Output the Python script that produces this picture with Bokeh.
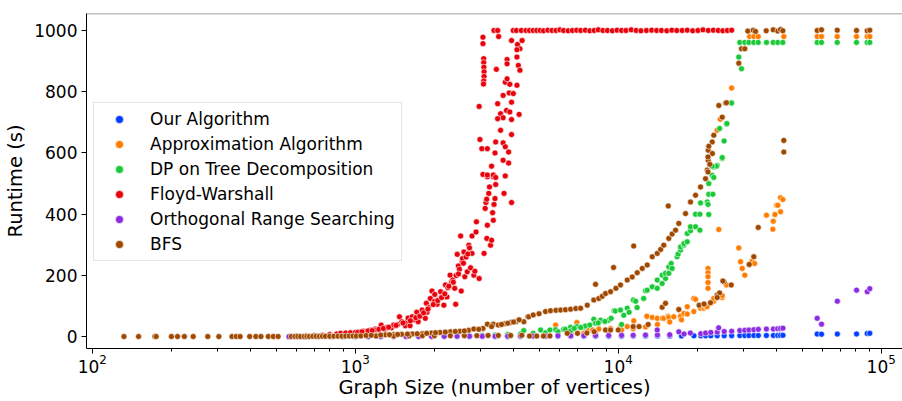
from bokeh.plotting import figure
from bokeh.models import Legend, LegendItem, FixedTicker, Range1d, Span
from bokeh.embed import file_html
from bokeh.resources import INLINE

# ---------------- data (graph size, runtime in seconds) ----------------
series_names = ["Our Algorithm", "Approximation Algorithm", "DP on Tree Decomposition",
                "Floyd-Warshall", "Orthogonal Range Searching", "BFS"]
series_colors = ["#023eff", "#ff7c00", "#1ac938", "#e8000b", "#8b2be2", "#9f4800"]

our_size = [560, 640, 720, 810, 900, 1000, 1120, 1250, 1400, 1560,
            1740, 1950, 2180, 2440, 2720, 3040, 3400, 3800, 4250, 4750,
            5300, 5900, 6600, 7400, 8200, 9200, 10300, 11400, 12700, 14100,
            15700, 17400, 19400, 20600, 21500, 22500, 23800, 25300, 27000, 29000,
            30300, 31400, 32800, 34100, 36600, 38900, 40400, 41400, 42300, 57100,
            59300, 68100, 80600, 88500, 90500]
our_time = [0.1, 0.1, 0.1, 0.2, 0.2, 0.2, 0.3, 0.3, 0.3, 0.4,
            0.4, 0.5, 0.5, 0.6, 0.7, 0.7, 0.8, 0.9, 1.0, 1.1,
            1.2, 1.3, 1.4, 1.5, 1.6, 1.8, 1.9, 2.0, 2.2, 2.4,
            2.5, 2.7, 2.9, 3.0, 3.1, 3.2, 3.3, 3.4, 3.5, 3.6,
            3.7, 3.8, 3.9, 4.0, 4.1, 4.2, 4.3, 4.4, 4.5, 8.5,
            8.2, 8.6, 9.0, 10.5, 11.0]

apx_size = [560, 640, 720, 810, 900, 1000, 1120, 1250, 1400, 1560,
            1740, 1950, 2180, 2440, 2720, 3040, 3400, 3800, 4250, 4750,
            5300, 5780, 5900, 6600, 6960, 7400, 7625, 8000, 8200, 8440,
            9200, 9350, 10200, 10300, 10820, 11400, 11460, 12700, 12890, 12850,
            13470, 14070, 14100, 14690, 14900, 15470, 15570, 15700, 16270, 17000,
            17260, 17400, 17780, 18300, 18300, 19380, 19380, 19680, 20440, 20560,
            21170, 21480, 21780, 21950, 21950, 21950, 21950, 21950, 22440, 22770,
            23090, 23090, 23780, 24130, 23780, 24440, 24860, 24860, 25800, 26990,
            28740, 29190, 29620, 30300, 31390, 32300, 32780, 33000, 36630, 38730,
            38860, 39440, 40000, 40440, 41410, 41410, 42260, 31580, 32780, 34070,
            42630, 57110, 59300, 68050, 80550, 88470, 90500]
apx_time = [0.3, 0.3, 0.4, 0.5, 0.6, 0.7, 0.8, 0.9, 1.0, 1.2,
            1.4, 1.6, 1.9, 2.2, 2.5, 2.9, 3.3, 3.8, 4.4, 5,
            6, 38, 7, 9, 46, 11, 22, 22, 14, 25,
            18, 27, 31, 22, 33, 26, 52, 32, 65, 67,
            63, 60, 40, 60, 60, 67, 63, 48, 65, 89,
            67, 55, 76, 98, 74, 82, 125, 122, 103, 93,
            93, 98, 98, 223, 209, 196, 177, 158, 111, 114,
            116, 125, 128, 350, 674, 710, 128, 134, 169, 812,
            290, 245, 223, 201, 236, 247, 261, 239, 397, 351,
            377, 399, 429, 429, 408, 454, 448, 980, 980, 980,
            980, 980, 980, 980, 980, 980, 980]

dp_size = [560, 640, 720, 810, 900, 1000, 1120, 1250, 1400, 1560,
           1740, 1950, 2180, 2440, 2720, 3040, 3400, 3800, 4250, 4375,
           4750, 5070, 5300, 5780, 5900, 6200, 6300, 6590, 6600, 6960,
           7400, 7500, 8075, 8200, 8570, 9200, 9650, 9750, 10200, 10300,
           10820, 11420, 11650, 12500, 12700, 12890, 13470, 14070, 14070, 14690,
           14690, 15130, 15130, 15570, 15570, 15900, 16030, 16750, 16900, 17260,
           17260, 17780, 17780, 18300, 18300, 18830, 18830, 19680, 20440, 19680,
           20440, 20560, 21800, 21950, 22100, 22100, 22900, 22100, 22770, 23090,
           23090, 23780, 23620, 22770, 24860, 24860, 24300, 25270, 25800, 25900,
           26900, 26990, 28740, 29430, 29000, 30300, 31390, 32780, 34070, 36630,
           38860, 40440, 42260, 57110, 59300, 68050, 80550, 88470, 90500,
           5500, 6800, 7200, 7800, 8400, 8900, 9400, 10500, 11000, 11800]
dp_time = [0.2, 0.3, 0.3, 0.4, 0.5, 0.6, 0.7, 0.9, 1.1, 1.3,
           1.6, 2.0, 2.4, 3, 3.6, 4.5, 5.5, 7, 9, 20,
           11, 22, 13, 23, 16, 24, 24, 31, 19, 33,
           31, 35, 57, 44, 54, 54, 85, 84, 87, 40,
           93, 120, 116, 125, 150, 152, 163, 158, 185, 174,
           201, 190, 207, 207, 228, 239, 223, 261, 270, 283,
           293, 299, 304, 310, 337, 346, 359, 359, 348, 400,
           400, 437, 440, 432, 399, 465, 465, 500, 527, 554,
           520, 560, 557, 557, 582, 585, 680, 639, 694, 696,
           764, 763, 913, 875, 961, 961, 961, 961, 961, 961,
           961, 961, 961, 961, 961, 961, 961, 961, 961,
           22, 27, 30, 38, 45, 50, 60, 70, 80, 95]

fw_size = [600, 650, 700, 750, 800, 850, 880, 920, 960, 1000,
           1040, 1076, 1100, 1141, 1190, 1200, 1255, 1301, 1320, 1373,
           1400, 1450, 1473, 1505, 1550, 1580, 1589, 1616, 1647, 1680,
           1714, 1735, 1780, 1796, 1847, 1864, 1875, 1900, 1930, 1958,
           2000, 2007, 2048, 2112, 2150, 2173, 2204, 2233, 2250, 2295,
           2324, 2350, 2389, 2410, 2420, 2443, 2467, 2490, 2517, 2530,
           2550, 2560, 2590, 2610, 2640, 2667, 2703, 2720, 2745, 2780,
           2780, 2825, 2850, 2880, 2890, 2960, 3090, 3120, 3140, 3160,
           3165, 3180, 3220, 3240, 3270, 3300, 3330, 3350, 3370, 3180,
           3350, 3420, 3400, 3680, 3930, 3060, 3060, 3080, 3080, 3085,
           3090, 3090, 3080, 3075, 2960, 2980, 3030, 3180, 3370, 3480,
           3510, 3440, 3780, 3780, 3720, 3870, 4120, 3780, 3650, 3850,
           3990, 3930, 3480, 3760, 3570, 3870, 3650, 3930, 4200, 3480,
           3570, 3930, 3420, 3650, 3720, 3830, 3400, 3650, 3830, 3300,
           3060, 3180, 3350, 3420, 3720, 3990, 4100, 4280, 4460, 3930,
           4140, 4310, 4230, 4120, 4120, 4170, 4230, 4600, 4750, 4900,
           5050, 5200, 5400, 5600, 5800, 6000, 6200, 6450, 6700, 6950,
           7200, 7500, 7800, 8100, 8400, 8750, 9100, 9500, 9900, 10300,
           10700, 11200, 11700, 12200, 12800, 13400, 14000, 14600, 15300, 16000,
           16700, 17500, 18300, 19200, 20100, 21000, 22000, 23000, 24000, 25000,
           26000, 27000,
           1020, 1060, 1120, 1160, 1230, 1280, 1340, 1430, 1520, 1620,
           1700, 1760, 1820, 1890, 1980, 2060, 2130, 2190, 2270, 2360,
           2470, 2580, 2680]
fw_time = [2, 3, 4, 5, 7, 9, 11, 12, 13, 14,
           15, 18, 17, 21, 25, 22, 38, 25, 30, 29,
           38, 40, 65, 49, 36, 50, 61, 36, 65, 55,
           80, 49, 70, 87, 60, 109, 80, 95, 125, 149,
           115, 138, 106, 147, 130, 103, 169, 130, 160, 201,
           179, 185, 158, 106, 200, 269, 231, 220, 329, 149,
           245, 255, 277, 196, 260, 212, 299, 290, 225, 329,
           272, 201, 214, 342, 375, 190, 272, 419, 438, 449,
           321, 364, 468, 489, 299, 315, 405, 380, 432, 522,
           522, 497, 451, 468, 438, 978, 957, 908, 895, 880,
           865, 850, 835, 825, 752, 644, 614, 614, 1000, 1000,
           980, 873, 905, 891, 831, 824, 821, 842, 788, 796,
           794, 766, 761, 739, 728, 734, 715, 709, 726, 712,
           674, 660, 636, 633, 620, 603, 600, 576, 567, 557,
           530, 528, 528, 520, 525, 1000, 1000, 1000, 1000, 967,
           954, 967, 940, 937, 913, 886, 870, 1000, 1000, 1000,
           1000, 999, 1001, 1000, 1000, 1002, 1000, 999, 1000, 1001,
           1000, 1001, 999, 1000, 1002, 1000, 1000, 999, 1001, 1000,
           1000, 1002, 1000, 999, 1000, 1001, 1000, 1000, 999, 1001,
           1000, 1000, 1001, 999, 1000, 1002, 1000, 1001, 1000, 999,
           1000, 1001,
           14, 16, 19, 20, 24, 27, 31, 37, 45, 52,
           62, 67, 78, 90, 105, 118, 128, 140, 165, 178,
           205, 240, 270]

ors_size = [560, 640, 720, 810, 900, 1000, 1120, 1250, 1400, 1560,
            1740, 1950, 2180, 2440, 2720, 3040, 3400, 3800, 4250, 4750,
            5300, 5900, 6600, 7400, 8200, 9200, 10300, 11400, 12700, 14100,
            14070, 15700, 17000, 17800, 18800, 20600, 21500, 22500, 23800, 24100,
            25300, 27000, 29000, 30300, 31400, 32800, 34100, 36600, 38900, 40400,
            41400, 42300, 57100, 59300, 68100, 80600, 88500, 90500]
ors_time = [0.2, 0.2, 0.3, 0.3, 0.4, 0.5, 0.5, 0.6, 0.7, 0.8,
            0.9, 1.0, 1.1, 1.2, 1.4, 1.5, 1.7, 1.9, 2.1, 2.3,
            2.5, 2.8, 3.0, 3.3, 3.6, 4.0, 4.4, 4.8, 5.3, 5.8,
            22, 6.5, 16, 9, 12, 10, 12, 14, 15, 29,
            17, 18, 20, 21, 22, 23, 24, 25, 25, 26,
            27, 28, 60, 41, 116, 152, 147, 157]

bfs_size = [132, 150, 173, 175, 200, 211, 224, 242, 275, 303,
            340, 353, 365, 397, 419, 438, 467, 488, 509, 572,
            590, 605, 620, 640, 655, 670, 690, 710, 730, 750,
            770, 800, 830, 860, 890, 920, 950, 980, 1010, 1050,
            1100, 1200, 1300, 1400, 1500, 1650, 1800, 1950, 2100, 2300,
            2500, 2700, 2825, 3060, 3180, 3350, 3500, 3700, 3900, 4100,
            4375, 4533, 4570, 4752, 5000, 5290, 5528, 5800, 6040, 6300,
            6590, 6900, 7195, 7625, 8075, 8440, 8700, 8950, 9350, 9800,
            10200, 10820, 11300, 11810, 12340, 12890, 13470, 14070, 14500, 14900,
            15570, 16030, 16520, 17000, 18030, 18830, 19680, 20560, 21480, 21800,
            21990, 21990, 22770, 23090, 24130, 24860, 25590, 28740, 29430, 30300,
            22100, 22800, 21950, 22300, 21950, 25800, 1200, 1400, 1600, 1800,
            2000, 2300, 2600, 2900, 3200, 3500, 3900, 4300, 4600, 4900,
            5200, 5500, 6400, 7000, 7600, 8100, 8950, 9350, 10000, 11400,
            12000, 13000, 14690, 15130, 17000, 20300, 21200, 23780, 25270, 26900,
            25000, 24300, 23780, 22440, 34070, 32780, 31500, 42630, 42630, 8200,
            9600, 11450, 15500, 31100, 32600, 33270, 36530, 38860, 40440, 41410,
            42260, 57110, 59300, 68050, 80550, 88470, 90500,
            1150, 1250, 1350, 1450, 1580, 1720, 1870, 2020, 2200, 2400,
            2600, 2950, 3300, 3600, 3800, 4000, 4200]
bfs_time = [0.5, 0.5, 0.5, 0.5, 0.5, 0.5, 0.5, 0.5, 0.5, 0.5,
            0.5, 0.5, 0.5, 0.6, 0.6, 0.6, 0.7, 0.7, 0.7, 0.8,
            0.8, 0.9, 0.9, 1.0, 1.0, 1.0, 1.1, 1.2, 1.2, 1.3,
            1.4, 1.5, 1.6, 1.7, 1.8, 2.0, 2.0, 2.2, 2.3, 2.5,
            4, 5, 6, 7, 8, 9, 10, 12, 14, 16,
            18, 21, 25, 27, 41, 41, 38, 42, 46, 50,
            49, 65, 65, 71, 75, 82, 85, 86, 87, 88,
            90, 92, 93, 103, 120, 125, 132, 141, 147, 158,
            169, 185, 195, 209, 223, 234, 261, 272, 285, 299,
            321, 335, 348, 370, 402, 440, 462, 489, 516, 544,
            576, 609, 636, 658, 755, 717, 763, 893, 940, 940,
            622, 598, 587, 563, 538, 764, 2, 2, 2.5, 3,
            3, 3, 3.5, 3.5, 4, 4, 4, 4.5, 2, 2,
            2, 2.5, 11, 11, 12, 16, 22, 22, 22, 33,
            33, 40, 96, 109, 89, 103, 107, 136, 179, 169,
            182, 143, 128, 111, 357, 261, 236, 641, 603, 171,
            226, 296, 427, 998, 1001, 997, 999, 1002, 998, 1003,
            999, 1000, 1002, 1001, 1000, 999, 1001,
            4.5, 5.5, 6.5, 7.5, 8.5, 9.5, 11, 13, 15, 17,
            19, 24, 33, 40, 44, 48, 55]

y_ticks = [0, 200, 400, 600, 800, 1000]
x_major_ticks = [100, 1000, 10000, 100000]
x_minor_ticks = [200, 300, 400, 500, 600, 700, 800, 900,
                 2000, 3000, 4000, 5000, 6000, 7000, 8000, 9000,
                 20000, 30000, 40000, 50000, 60000, 70000, 80000, 90000]
x_title = "Graph Size (number of vertices)"
y_title = "Runtime (s)"

sizes = [our_size, apx_size, dp_size, fw_size, ors_size, bfs_size]
times = [our_time, apx_time, dp_time, fw_time, ors_time, bfs_time]

# ---------------- figure ----------------
FONT = "DejaVu Sans"
p = figure(width=902, height=401, x_axis_type="log",
           x_range=Range1d(95.1, 120500), y_range=Range1d(-38.5, 1055.4),
           output_backend="svg", toolbar_location=None,
           min_border_left=86, min_border_right=0, min_border_top=13,
           min_border_bottom=49)
p.outline_line_color = None
p.xgrid.grid_line_color = None
p.ygrid.grid_line_color = None
p.background_fill_color = "white"
p.border_fill_color = "white"

leg_items = []
for name, s, t, c in zip(series_names, sizes, times, series_colors):
    r = p.scatter(x=s, y=t, marker="circle", size=6, fill_color=c,
                  line_color="white", line_width=0.6)
    leg_items.append(LegendItem(label=name, renderers=[r]))

top_line = Span(location=1055.4, dimension="width", line_color="#808080",
                line_width=1.3)
p.add_layout(top_line)

# axes
for ax in (p.xaxis[0], p.yaxis[0]):
    ax.axis_line_color = "black"
    ax.axis_line_width = 1
    ax.major_tick_line_color = "black"
    ax.major_tick_in = 0
    ax.major_tick_out = 5
    ax.major_label_text_font = FONT
    ax.major_label_text_font_size = "17px"
    ax.major_label_text_color = "black"
    ax.axis_label_text_font = FONT
    ax.axis_label_text_font_size = "19.5px"
    ax.axis_label_text_font_style = "normal"
    ax.axis_label_text_color = "black"

p.yaxis.ticker = FixedTicker(ticks=y_ticks)
p.yaxis.minor_tick_line_color = None
p.yaxis.major_label_standoff = 4
p.yaxis.axis_label = y_title
p.yaxis.axis_label_standoff = 4

p.xaxis.ticker = FixedTicker(ticks=x_major_ticks, minor_ticks=x_minor_ticks)
p.xaxis.minor_tick_line_color = "black"
p.xaxis.minor_tick_in = 0
p.xaxis.minor_tick_out = 3
p.xaxis.major_label_standoff = 0
p.xaxis.axis_label = x_title
p.xaxis.axis_label_standoff = 0

legend = Legend(items=leg_items, location=(7, 87))
legend.label_text_font = FONT
legend.label_text_font_size = "17px"
legend.label_text_color = "black"
legend.glyph_width = 38
legend.glyph_height = 20
legend.label_height = 20
legend.label_standoff = 12
legend.spacing = 5
legend.padding = 6
legend.margin = 0
legend.border_line_color = "#cccccc"
legend.border_line_width = 1
legend.background_fill_color = "white"
legend.background_fill_alpha = 0.8
p.add_layout(legend)

open("out.html", "w").write(file_html(p, INLINE))
